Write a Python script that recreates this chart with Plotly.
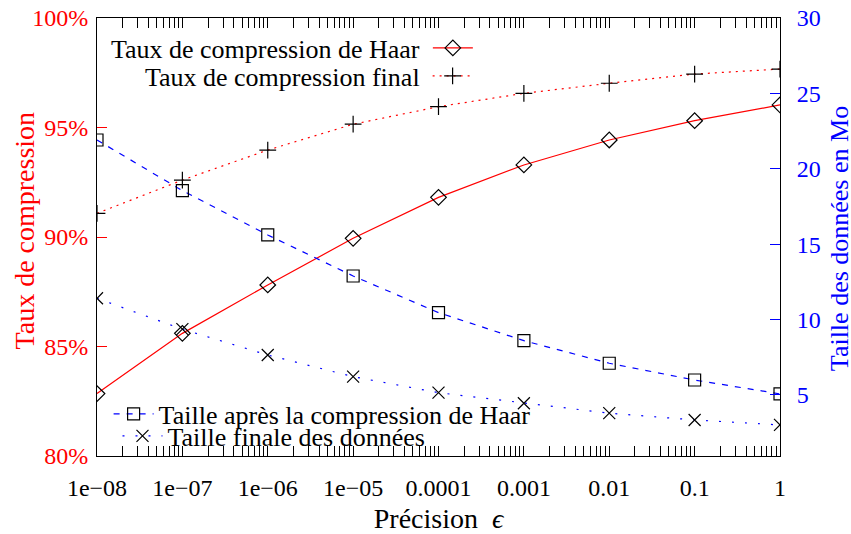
import plotly.graph_objects as go

# ---- data ----
precision = [1e-8, 1e-7, 1e-6, 1e-5, 1e-4, 1e-3, 1e-2, 1e-1, 1]
tick_labels = ["1e\u221208", "1e\u221207", "1e\u221206", "1e\u221205",
               "0.0001", "0.001", "0.01", "0.1", "1"]
taux_haar = [82.85, 85.60, 87.81, 89.94, 91.81, 93.29, 94.43, 95.31, 96.03]
taux_final = [91.08, 92.60, 93.97, 95.15, 95.95, 96.56, 97.02, 97.44, 97.67]
taille_haar = [21.91, 18.55, 15.61, 12.89, 10.46, 8.60, 7.10, 5.99, 5.07]
taille_final = [11.41, 9.36, 7.65, 6.21, 5.15, 4.45, 3.79, 3.34, 3.01]

label_taux_haar = "Taux de compression de Haar"
label_taux_final = "Taux de compression final"
label_taille_haar = "Taille après la compression de Haar"
label_taille_final = "Taille finale des données"
title_left = "Taux de compression"
title_right = "Taille des données en Mo"
title_x = "Précision\u2002<i>\u03f5</i>"

FONT = "Liberation Serif, Times New Roman, serif"

fig = go.Figure()
# top legend rows: text on the left (legend title), sample on the right
fig.add_trace(go.Scatter(
    x=precision, y=taux_haar, name="", showlegend=True,
    mode="lines+markers", line=dict(color="red", width=1.2),
    marker=dict(symbol="diamond-open", color="black", size=12, line=dict(width=1.2)),
    legend="legend", hovertemplate=label_taux_haar + ": %{y:.2f}%<extra></extra>"))
fig.add_trace(go.Scatter(
    x=precision, y=taux_final, name="", showlegend=True,
    mode="lines+markers", line=dict(color="red", width=1.2, dash="2px,5px"),
    marker=dict(symbol="cross-thin-open", color="black", size=12, line=dict(width=1.2, color="black")),
    legend="legend2", hovertemplate=label_taux_final + ": %{y:.2f}%<extra></extra>"))
fig.add_trace(go.Scatter(
    x=precision, y=taille_haar, name=label_taille_haar,
    mode="lines+markers", yaxis="y2", line=dict(color="blue", width=1.2, dash="6px,7px"),
    marker=dict(symbol="square-open", color="black", size=12, line=dict(width=1.2)),
    legend="legend3"))
fig.add_trace(go.Scatter(
    x=precision, y=taille_final, name=label_taille_final,
    mode="lines+markers", yaxis="y2", line=dict(color="blue", width=1.2, dash="2px,11px"),
    marker=dict(symbol="x-thin-open", color="black", size=12, line=dict(width=1.2, color="black")),
    legend="legend4"))

legend_common = dict(bgcolor="rgba(0,0,0,0)", font=dict(size=26, family=FONT, color="black"),
                     itemwidth=40, tracegroupgap=0, borderwidth=0)

fig.update_layout(
    width=851, height=534,
    margin=dict(l=97, r=71, t=18, b=78),
    plot_bgcolor="white", paper_bgcolor="white",
    font=dict(family=FONT, size=24, color="black"),
    xaxis=dict(
        type="log", range=[-8, 0], tickvals=precision, ticktext=tick_labels,
        ticks="inside", ticklen=10, tickcolor="black", tickwidth=1,
        showline=True, linecolor="black", linewidth=1, mirror="allticks",
        showgrid=False, zeroline=False, ticklabelstandoff=10, automargin=False,
        ticklabeloverflow="allow",
        minor=dict(ticks="inside", ticklen=5, dtick="D1", tickcolor="black", showgrid=False),
        title=dict(text=title_x, font=dict(size=28, family=FONT), standoff=8),
    ),
    yaxis=dict(
        range=[80, 100], tick0=80, dtick=5, ticksuffix="%",
        ticks="inside", ticklen=10, tickcolor="red", tickwidth=1,
        tickfont=dict(color="red"), ticklabelstandoff=3, automargin=False,
        ticklabeloverflow="allow",
        showline=True, linecolor="black", linewidth=1, mirror=True,
        showgrid=False, zeroline=False,
    ),
    yaxis2=dict(
        overlaying="y", side="right", range=[0.95, 30], tick0=0, dtick=5,
        ticks="inside", ticklen=10, tickcolor="blue", tickwidth=1,
        tickfont=dict(color="blue"), ticklabelstandoff=11, automargin=False,
        ticklabeloverflow="allow",
        showline=True, linecolor="black", linewidth=1,
        showgrid=False, zeroline=False,
    ),
    legend=dict(x=0.565, y=0.9315, xanchor="right", yanchor="middle",
                title=dict(text=label_taux_haar, side="left", font=dict(size=26, family=FONT)),
                **legend_common),
    legend2=dict(x=0.565, y=0.8676, xanchor="right", yanchor="middle",
                 title=dict(text=label_taux_final, side="left", font=dict(size=26, family=FONT)),
                 **legend_common),
    legend3=dict(x=0.017, y=0.096, xanchor="left", yanchor="middle", **legend_common),
    legend4=dict(x=0.030, y=0.0457, xanchor="left", yanchor="middle", **legend_common),
    annotations=[
        dict(text=title_left, textangle=-90, xref="paper", yref="paper",
             x=0, y=0.515, xanchor="center", yanchor="middle", xshift=-73,
             showarrow=False, font=dict(size=28, color="red", family=FONT)),
        dict(text=title_right, textangle=-90, xref="paper", yref="paper",
             x=1, y=0.495, xanchor="center", yanchor="middle", xshift=59,
             showarrow=False, font=dict(size=26, color="blue", family=FONT)),
    ],
)

# remove the browser's default 8px page margin so the figure fills the window exactly
fig.write_html("out.html", config={"displayModeBar": False},
               post_script="document.body.style.margin='0';")
